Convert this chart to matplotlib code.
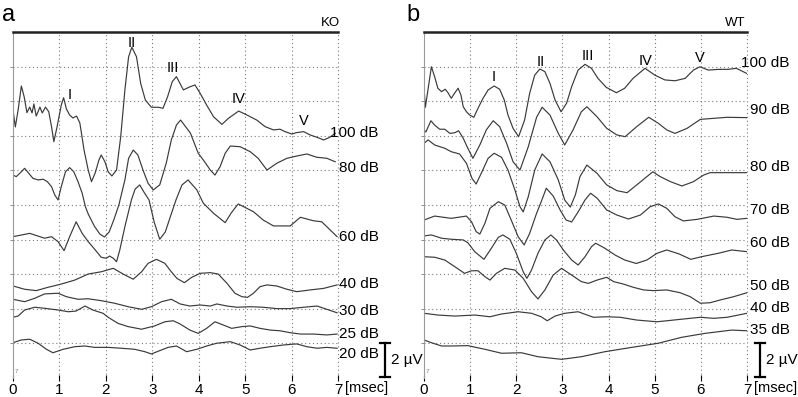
import matplotlib
matplotlib.use("Agg")
import matplotlib.pyplot as plt

plt.rcParams["font.family"] = ["Liberation Sans", "DejaVu Sans"]

# ABR traces, (time in msec, stacked amplitude in µV)
ko_100 = [(0, 15.49), (0.05, 14.51), (0.11, 15.49), (0.18, 16.88), (0.24, 16.26), (0.30, 15.34),
          (0.36, 15.66), (0.41, 15.32), (0.45, 15.84), (0.50, 15.14), (0.58, 15.66), (0.63, 15.32),
          (0.70, 15.66), (0.77, 15.39), (0.83, 14.53), (0.88, 13.66), (0.95, 14.53), (1.04, 15.78),
          (1.09, 16.20), (1.15, 15.55), (1.22, 15.20), (1.29, 15.03), (1.37, 15.14), (1.44, 14.74),
          (1.53, 13.18), (1.62, 12.02), (1.69, 11.35), (1.77, 11.85), (1.85, 12.60), (1.90, 12.89),
          (1.98, 12.50), (2.05, 11.92), (2.13, 11.68), (2.23, 12.02), (2.32, 13.95), (2.41, 16.65),
          (2.49, 18.57), (2.56, 19.12), (2.66, 18.57), (2.75, 17.03), (2.85, 16.07), (2.98, 15.65),
          (3.13, 15.65), (3.23, 15.59), (3.33, 16.26), (3.43, 17.13), (3.52, 17.42), (3.67, 16.65),
          (3.80, 16.82), (3.92, 16.94), (4.03, 16.46), (4.17, 15.78), (4.32, 15.10), (4.50, 14.66),
          (4.64, 15.01), (4.86, 15.43), (5.04, 15.20), (5.25, 14.91), (5.43, 14.53), (5.61, 14.34),
          (5.75, 14.38), (5.86, 14.24), (6.01, 14.10), (6.10, 14.18), (6.26, 14.24), (6.40, 14.05),
          (6.55, 13.91), (6.69, 13.76), (6.82, 13.91), (6.94, 14.14)]
ko_80 = [(0, 11.73), (0.07, 11.64), (0.18, 11.92), (0.25, 12.12), (0.34, 11.83), (0.43, 11.54),
         (0.54, 11.45), (0.65, 11.49), (0.74, 11.35), (0.83, 11.06), (0.90, 10.58), (0.97, 10.29),
         (1.04, 11.06), (1.13, 11.92), (1.22, 12.16), (1.31, 11.92), (1.40, 11.35), (1.49, 10.68),
         (1.56, 9.90), (1.62, 9.48), (1.75, 8.79), (1.87, 8.32), (1.97, 8.15), (2.07, 8.44),
         (2.17, 9.13), (2.28, 10.00), (2.41, 11.45), (2.49, 12.70), (2.59, 13.18), (2.69, 12.89),
         (2.80, 12.02), (2.91, 11.25), (3.02, 10.87), (3.16, 11.16), (3.30, 12.41), (3.41, 13.76),
         (3.52, 14.62), (3.61, 14.91), (3.82, 14.16), (3.99, 12.99), (4.10, 12.60), (4.25, 12.02),
         (4.35, 11.73), (4.46, 12.21), (4.57, 12.99), (4.68, 13.41), (4.89, 13.37), (5.11, 13.08),
         (5.28, 12.70), (5.47, 12.02), (5.68, 12.41), (5.90, 12.70), (6.11, 12.83), (6.33, 12.95),
         (6.54, 12.76), (6.76, 12.70), (6.94, 12.50)]
ko_60 = [(0, 8.17), (0.36, 8.36), (0.68, 8.08), (0.83, 8.17), (0.97, 7.88), (1.10, 7.36),
         (1.22, 8.17), (1.36, 9.03), (1.49, 8.36), (1.62, 7.88), (1.76, 7.44), (1.90, 6.98),
         (2.01, 6.92), (2.08, 7.05), (2.16, 6.92), (2.23, 6.72), (2.30, 7.40), (2.41, 8.75),
         (2.55, 10.29), (2.63, 10.92), (2.73, 11.16), (2.82, 10.75), (2.93, 10.29), (3.04, 9.02),
         (3.16, 8.02), (3.28, 8.44), (3.38, 9.25), (3.51, 10.29), (3.64, 11.16), (3.77, 11.45),
         (3.96, 10.87), (4.10, 10.10), (4.32, 9.52), (4.57, 8.98), (4.70, 9.54), (4.85, 10.06),
         (5.18, 9.61), (5.39, 9.13), (5.61, 8.79), (5.97, 8.79), (6.19, 9.29), (6.47, 9.09),
         (6.65, 9.03), (6.98, 8.17)]
ko_40 = [(0, 5.32), (0.25, 5.13), (0.50, 5.05), (0.75, 5.24), (1.04, 5.43), (1.33, 5.66),
         (1.62, 6.01), (1.90, 6.14), (2.16, 6.34), (2.37, 6.01), (2.59, 5.71), (2.77, 6.14),
         (2.91, 6.63), (3.09, 6.86), (3.27, 6.63), (3.41, 6.14), (3.53, 5.76), (3.69, 5.51),
         (3.85, 5.82), (4.03, 6.05), (4.25, 6.09), (4.42, 6.01), (4.61, 5.47), (4.78, 4.90),
         (4.93, 4.70), (5.05, 4.66), (5.18, 4.90), (5.32, 5.28), (5.47, 5.38), (5.68, 5.32),
         (5.90, 5.13), (6.11, 4.99), (6.40, 5.09), (6.69, 5.18), (6.98, 5.38)]
ko_30 = [(0, 4.55), (0.25, 4.41), (0.47, 4.61), (0.68, 4.86), (0.97, 4.90), (1.15, 4.70),
         (1.40, 4.55), (1.62, 4.58), (1.90, 4.47), (2.19, 4.32), (2.48, 4.12), (2.77, 3.97),
         (2.98, 4.12), (3.20, 4.41), (3.41, 4.55), (3.60, 4.28), (3.81, 4.16), (4.03, 4.22),
         (4.25, 4.16), (4.39, 4.28), (4.61, 4.16), (4.82, 4.09), (5.11, 4.12), (5.39, 4.09),
         (5.68, 4.01), (5.97, 4.01), (6.26, 4.09), (6.55, 4.16), (6.76, 3.97), (6.98, 3.77)]
ko_25 = [(0, 3.51), (0.11, 3.58), (0.25, 3.93), (0.47, 4.09), (0.68, 4.03), (0.97, 3.93),
         (1.19, 3.83), (1.36, 3.87), (1.55, 4.16), (1.72, 3.93), (1.94, 3.74), (2.05, 3.51),
         (2.26, 3.16), (2.48, 2.97), (2.77, 2.82), (3.05, 3.01), (3.27, 3.25), (3.45, 3.31),
         (3.60, 3.12), (3.81, 2.77), (3.99, 2.58), (4.17, 2.87), (4.35, 3.25), (4.53, 3.06),
         (4.71, 2.87), (4.93, 2.97), (5.11, 3.01), (5.32, 2.87), (5.54, 2.77), (5.75, 2.73),
         (5.97, 2.62), (6.19, 2.54), (6.47, 2.54), (6.76, 2.49), (6.98, 2.54)]
ko_20 = [(0, 2.04), (0.18, 2.20), (0.36, 2.24), (0.54, 2.01), (0.72, 1.66), (0.86, 1.46),
         (1.08, 1.66), (1.33, 1.81), (1.55, 1.85), (1.76, 1.77), (2.05, 1.77), (2.33, 1.72),
         (2.62, 1.66), (2.84, 1.52), (2.98, 1.39), (3.16, 1.58), (3.34, 1.77), (3.52, 1.85),
         (3.74, 1.52), (3.96, 1.66), (4.17, 1.85), (4.39, 2.01), (4.68, 2.10), (4.89, 1.91),
         (5.11, 1.62), (5.32, 1.72), (5.54, 1.81), (5.83, 1.91), (6.11, 1.97), (6.33, 1.81),
         (6.55, 1.72), (6.76, 1.77), (6.98, 1.72)]

wt_100 = [(0, 16.76), (0.03, 15.65), (0.16, 17.99), (0.23, 17.42), (0.30, 16.75), (0.38, 16.55),
          (0.46, 16.69), (0.52, 16.49), (0.59, 16.17), (0.67, 16.49), (0.74, 16.75), (0.80, 16.36),
          (0.85, 15.68), (0.92, 15.39), (0.99, 15.20), (1.08, 15.07), (1.17, 15.59), (1.28, 16.17),
          (1.39, 16.65), (1.52, 16.88), (1.64, 16.69), (1.74, 16.07), (1.82, 15.20), (1.93, 14.43),
          (2.05, 13.95), (2.18, 14.91), (2.29, 16.46), (2.40, 17.51), (2.51, 17.86), (2.62, 17.71),
          (2.73, 17.03), (2.84, 16.07), (2.97, 15.39), (3.09, 15.88), (3.20, 16.84), (3.34, 17.80),
          (3.49, 18.13), (3.63, 17.90), (3.77, 17.32), (3.95, 16.80), (4.17, 16.49), (4.35, 16.75),
          (4.53, 17.32), (4.79, 17.90), (5.00, 17.51), (5.22, 17.23), (5.44, 17.18), (5.66, 17.32),
          (5.84, 17.80), (5.98, 17.99), (6.16, 17.80), (6.38, 17.84), (6.59, 17.84), (6.77, 17.90),
          (6.99, 17.61)]
wt_90 = [(0, 14.34), (0.04, 14.22), (0.15, 14.87), (0.23, 14.62), (0.34, 14.38), (0.45, 14.38),
         (0.56, 14.14), (0.67, 14.18), (0.75, 14.29), (0.85, 13.86), (0.95, 13.28), (1.06, 12.70),
         (1.21, 13.47), (1.35, 14.34), (1.50, 14.87), (1.64, 14.53), (1.79, 13.57), (1.93, 12.50),
         (2.08, 12.02), (2.26, 13.37), (2.44, 15.07), (2.56, 15.65), (2.73, 15.20), (2.91, 14.14),
         (3.05, 13.47), (3.23, 14.34), (3.41, 15.39), (3.53, 15.68), (3.75, 15.10), (3.96, 14.43),
         (4.18, 14.05), (4.36, 13.95), (4.61, 14.53), (4.87, 15.07), (5.08, 14.72), (5.26, 14.34),
         (5.44, 14.14), (5.70, 14.43), (5.99, 14.95), (6.28, 15.01), (6.57, 15.07), (7.0, 15.05)]
wt_80 = [(0, 13.57), (0.09, 13.76), (0.23, 13.47), (0.45, 13.28), (0.59, 13.08), (0.77, 12.95),
         (0.92, 12.41), (1.04, 11.54), (1.13, 11.21), (1.24, 11.83), (1.39, 12.70), (1.52, 12.99),
         (1.68, 12.76), (1.82, 12.02), (1.97, 10.87), (2.08, 9.90), (2.15, 9.60), (2.26, 10.48),
         (2.40, 12.02), (2.56, 12.95), (2.73, 12.50), (2.91, 11.45), (3.05, 10.29), (3.17, 9.88),
         (3.28, 10.58), (3.38, 11.64), (3.53, 12.31), (3.75, 11.83), (3.96, 11.16), (4.18, 10.83),
         (4.40, 10.71), (4.61, 11.16), (4.83, 11.64), (4.96, 11.92), (5.12, 11.64), (5.34, 11.35),
         (5.59, 11.10), (5.84, 11.35), (6.06, 11.73), (6.20, 11.87), (6.49, 11.87), (7.0, 11.87)]
wt_70 = [(0, 9.13), (0.23, 9.36), (0.59, 9.23), (0.92, 9.36), (1.03, 9.03), (1.13, 8.46),
         (1.21, 8.32), (1.32, 8.94), (1.43, 9.81), (1.61, 10.19), (1.75, 10.00), (1.89, 9.13),
         (2.04, 8.17), (2.17, 7.69), (2.29, 8.36), (2.44, 9.52), (2.54, 10.19), (2.65, 10.97),
         (2.80, 10.52), (2.95, 9.71), (3.08, 9.13), (3.20, 9.02), (3.34, 9.60), (3.49, 10.29),
         (3.61, 10.68), (3.75, 10.40), (3.96, 9.71), (4.18, 9.42), (4.43, 9.19), (4.69, 9.42),
         (4.90, 9.90), (5.08, 10.06), (5.26, 9.81), (5.44, 9.32), (5.62, 9.08), (5.92, 9.17),
         (6.28, 9.36), (6.57, 9.29), (6.78, 9.17), (7.0, 9.23)]
wt_60 = [(0, 8.21), (0.16, 8.27), (0.38, 8.08), (0.59, 8.02), (0.85, 7.98), (0.95, 7.82),
         (1.10, 7.30), (1.30, 6.86), (1.46, 7.50), (1.61, 8.13), (1.71, 8.27), (1.86, 8.02),
         (2.00, 7.21), (2.15, 6.14), (2.23, 5.76), (2.33, 6.24), (2.47, 7.21), (2.62, 7.98),
         (2.75, 8.27), (2.87, 7.98), (3.02, 7.40), (3.20, 6.82), (3.34, 6.53), (3.49, 7.01),
         (3.63, 7.59), (3.72, 7.79), (3.92, 7.50), (4.14, 7.11), (4.35, 6.82), (4.60, 6.62),
         (4.83, 6.82), (5.05, 7.21), (5.26, 7.40), (5.53, 7.17), (5.78, 6.86), (6.03, 7.02),
         (6.38, 7.21), (6.67, 7.40), (7.0, 7.30)]
wt_50 = [(0, 7.01), (0.23, 6.98), (0.45, 6.82), (0.67, 6.43), (0.88, 6.05), (1.03, 6.20),
         (1.17, 6.20), (1.32, 5.86), (1.43, 5.66), (1.57, 6.05), (1.75, 6.34), (1.97, 6.24),
         (2.15, 5.76), (2.33, 4.99), (2.47, 4.57), (2.62, 5.09), (2.80, 5.95), (2.98, 6.34),
         (3.20, 5.95), (3.41, 5.57), (3.56, 5.47), (3.75, 5.66), (3.96, 5.82), (4.11, 5.57),
         (4.32, 5.43), (4.54, 5.24), (4.76, 5.09), (4.97, 5.05), (5.26, 5.09), (5.55, 4.93),
         (5.77, 4.70), (5.99, 4.32), (6.20, 4.35), (6.42, 4.51), (6.71, 4.70), (7.0, 4.93)]
wt_40 = [(0, 3.74), (0.30, 3.64), (0.67, 3.58), (1.10, 3.64), (1.43, 3.54), (1.68, 3.70),
         (2.04, 3.83), (2.33, 3.74), (2.54, 3.54), (2.67, 3.31), (2.84, 3.58), (3.05, 3.74),
         (3.34, 3.83), (3.67, 3.51), (3.96, 3.54), (4.25, 3.51), (4.61, 3.35), (5.05, 3.25),
         (5.41, 3.35), (5.77, 3.45), (5.99, 3.51), (6.28, 3.45), (6.57, 3.51), (7.0, 3.74)]
wt_35 = [(0, 2.20), (0.16, 2.04), (0.38, 1.85), (0.59, 1.85), (0.95, 1.87), (1.32, 1.66),
         (1.68, 1.43), (2.11, 1.46), (2.47, 1.23), (2.98, 1.08), (3.41, 1.23), (3.92, 1.52),
         (4.50, 1.77), (5.08, 2.01), (5.58, 2.35), (6.09, 2.58), (6.67, 2.77), (7.0, 2.73)]

ko_traces = [ko_100, ko_80, ko_60, ko_40, ko_30, ko_25, ko_20]
ko_labels = ["100 dB", "80 dB", "60 dB", "40 dB", "30 dB", "25 dB", "20 dB"]
ko_label_y = [14.16, 12.14, 8.15, 5.43, 3.87, 2.54, 1.39]
ko_waves = ["I", "II", "III", "IV", "V"]
ko_wave_t = [1.23, 2.56, 3.44, 4.86, 6.26]
ko_wave_v = [16.36, 19.35, 17.90, 16.11, 14.86]

wt_traces = [wt_100, wt_90, wt_80, wt_70, wt_60, wt_50, wt_40, wt_35]
wt_labels = ["100 dB", "90 dB", "80 dB", "70 dB", "60 dB", "50 dB", "40 dB", "35 dB"]
wt_label_y = [18.19, 15.49, 12.21, 9.71, 7.79, 5.32, 4.03, 2.77]
wt_waves = ["I", "II", "III", "IV", "V"]
wt_wave_t = [1.52, 2.53, 3.54, 4.80, 5.98]
wt_wave_v = [17.42, 18.28, 18.61, 18.32, 18.48]

W, H = 798, 397


def fx(x):
    return x / W


def fy(y):
    return 1 - y / H


def panel(ax, traces, labels, label_y, label_x, waves, wave_t, wave_v, bar_x):
    ax.set_xlim(0, 7)
    ax.set_ylim(0, 20)
    ax.set_xticks(range(8))
    ax.set_yticks(range(2, 20, 2))
    # dotted grid, drawn by hand so it sits on the tick positions
    for x in range(1, 8):
        ax.axvline(x, ls=(0, (1, 2.5)), lw=0.8, color="#7a7a7a", zorder=0, clip_on=False)
    for y in range(2, 20, 2):
        ax.axhline(y, ls=(0, (1, 2.5)), lw=0.8, color="#7a7a7a", zorder=0)
    for side in ("right", "bottom"):
        ax.spines[side].set_visible(False)
    ax.spines["top"].set_linewidth(1.8)
    ax.spines["top"].set_color("#222222")
    ax.spines["left"].set_linewidth(0.8)
    ax.spines["left"].set_color("#9a9a9a")
    ax.tick_params(axis="x", direction="inout", length=4, width=0.8, pad=1.5,
                   labelsize=11, colors="black")
    ax.tick_params(axis="y", direction="out", length=2.5, width=0.6, color="#777777",
                   labelleft=False)

    for tr in traces:
        t, v = zip(*tr)
        ax.plot(t, v, color="#3a3a3a", lw=0.85, solid_joinstyle="round")

    for lab, y in zip(labels, label_y):
        ax.text(label_x, y, lab, ha="right", va="center", fontsize=11, clip_on=False)
    for w, t, v in zip(waves, wave_t, wave_v):
        ax.text(t, v, w, ha="center", va="center", fontsize=10.5)

    # 2 µV scale bar
    ax.plot([bar_x, bar_x], [0.05, 2.05], color="black", lw=1.6, clip_on=False)
    for yb in (0.05, 2.05):
        ax.plot([bar_x - 0.11, bar_x + 0.11], [yb, yb], color="black", lw=1.6, clip_on=False)
    ax.text(bar_x + 0.13, 1.05, "2 µV", ha="left", va="center", fontsize=11, clip_on=False)
    ax.text(0.04, 0.3, "7", fontsize=4.5, color="#777777")


fig = plt.figure(figsize=(W / 100, H / 100), dpi=100)
ax1 = fig.add_axes([fx(13), fy(378), 325 / W, 346 / H])
ax2 = fig.add_axes([fx(424), fy(378), 323 / W, 346 / H])

panel(ax1, ko_traces, ko_labels, ko_label_y, 7.87, ko_waves, ko_wave_t, ko_wave_v, 8.02)
panel(ax2, wt_traces, wt_labels, wt_label_y, 7.92, wt_waves, wt_wave_t, wt_wave_v, 7.29)

fig.text(fx(2), fy(15), "a", fontsize=17, va="center", ha="left")
fig.text(fx(406), fy(15), "b", fontsize=17, va="center", ha="left")
fig.text(fx(330), fy(23), "KO", fontsize=9.5, va="center", ha="center")
fig.text(fx(735), fy(23), "WT", fontsize=9.5, va="center", ha="center")
fig.text(fx(345), fy(388), "[msec]", fontsize=10.5, va="center", ha="left")
fig.text(fx(754), fy(388), "[msec]", fontsize=10.5, va="center", ha="left")

fig.savefig("out.png", dpi=100)
